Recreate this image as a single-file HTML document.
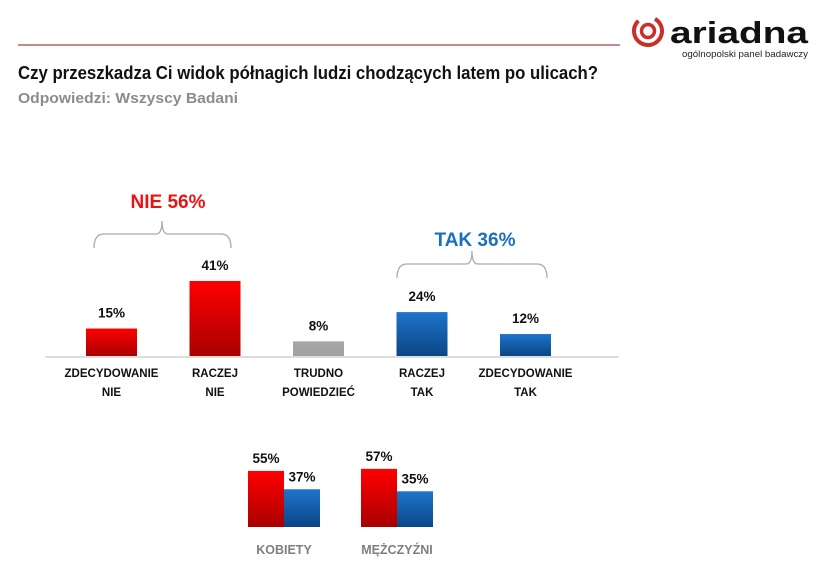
<!DOCTYPE html>
<html><head><meta charset="utf-8"><style>
body{margin:0;background:#fff;width:820px;height:575px;overflow:hidden;font-family:"Liberation Sans",sans-serif}
</style></head><body>
<svg width="820" height="575" xmlns="http://www.w3.org/2000/svg">
<defs>
<linearGradient id="gR" x1="0" y1="0" x2="0" y2="1"><stop offset="0" stop-color="#ff0000"/><stop offset="1" stop-color="#a80000"/></linearGradient>
<linearGradient id="gB" x1="0" y1="0" x2="0" y2="1"><stop offset="0" stop-color="#1e74cc"/><stop offset="1" stop-color="#0b4684"/></linearGradient>
<linearGradient id="gG" x1="0" y1="0" x2="0" y2="1"><stop offset="0" stop-color="#a8a8a8"/><stop offset="1" stop-color="#a0a0a0"/></linearGradient>
</defs>
<line x1="18" y1="45" x2="620" y2="45" stroke="#b56262" stroke-width="1.5"/>
<g>
<circle cx="648" cy="31" r="14" fill="none" stroke="#c9302c" stroke-width="4" stroke-dasharray="70 18" transform="rotate(-60 648 31)"/>
<circle cx="648" cy="31" r="6.5" fill="none" stroke="#c9302c" stroke-width="3.5"/>
<text x="808" y="43" text-anchor="end" font-size="31" font-weight="bold" fill="#111" textLength="138" lengthAdjust="spacingAndGlyphs">ariadna</text>
<text x="808" y="57" text-anchor="end" font-size="9.5" fill="#222" textLength="126" lengthAdjust="spacingAndGlyphs">ogólnopolski panel badawczy</text>
</g>
<text x="18" y="79" font-size="18" font-weight="bold" fill="#111" textLength="580" lengthAdjust="spacingAndGlyphs">Czy przeszkadza Ci widok półnagich ludzi chodzących latem po ulicach?</text>
<text x="18" y="103" font-size="14.5" font-weight="bold" fill="#8c8c8c" textLength="220" lengthAdjust="spacingAndGlyphs">Odpowiedzi:  Wszyscy Badani</text>

<line x1="45" y1="357" x2="619" y2="357" stroke="#bbb" stroke-width="1"/>
<g id="main"></g>

<g>
<path d="M94 248 Q94 234 104 234 L156 234 Q162 234 162 221 Q162 234 168 234 L221 234 Q231 234 231 248" fill="none" stroke="#aaa" stroke-width="1.3"/>
<text x="168" y="208" text-anchor="middle" font-size="19" font-weight="bold" fill="#ee1111">NIE 56%</text>
</g>
<g>
<path d="M397 278 Q397 264 407 264 L466 264 Q472 264 472 251 Q472 264 478 264 L537 264 Q547 264 547 278" fill="none" stroke="#aaa" stroke-width="1.3"/>
<text x="475" y="246" text-anchor="middle" font-size="19" font-weight="bold" fill="#1a6fc0">TAK 36%</text>
</g>
<g id="sub"></g>
</svg>
<script>
const categories=[["ZDECYDOWANIE","NIE"],["RACZEJ","NIE"],["TRUDNO","POWIEDZIEĆ"],["RACZEJ","TAK"],["ZDECYDOWANIE","TAK"]];
const values=[15,41,8,24,12];
const fills=["url(#gR)","url(#gR)","url(#gG)","url(#gB)","url(#gB)"];
const genders=["KOBIETY","MĘŻCZYŹNI"];
const nieValues=[55,57];
const takValues=[37,35];
const NS="http://www.w3.org/2000/svg";
function mk(t,a,p){const e=document.createElementNS(NS,t);for(const k in a)e.setAttribute(k,a[k]);p.appendChild(e);return e;}
const base=356, sc=1.83;
const yM=v=>base-v*sc;
const xM=i=>86+i*103.5;
const main=document.getElementById('main');
values.forEach((v,i)=>{
 const x=xM(i);
 const r=mk('rect',{x:x,y:yM(v),width:51,height:base-yM(v),fill:fills[i]},main);
 
 
 const t=mk('text',{x:x+25.5,y:yM(v)-11,'text-anchor':'middle','font-size':'13.5','font-weight':'bold',fill:'#111'},main);
 t.textContent=v+'%';
 
 
 categories[i].forEach((s,j)=>{
  const c=mk('text',{x:x+25.5,y:377+j*19,'text-anchor':'middle','font-size':'11.5','font-weight':'bold',fill:'#111'},main);
  c.textContent=s;
  
  
 });
});
const sub=document.getElementById('sub');
const b2=527, s2=1.02;
const y2=v=>b2-v*s2;
genders.forEach((g,i)=>{
 const x=248+i*113;
 const r1=mk('rect',{x:x,y:y2(nieValues[i]),width:36,height:b2-y2(nieValues[i]),fill:'url(#gR)'},sub);
 
 
 const r2=mk('rect',{x:x+36,y:y2(takValues[i]),width:36,height:b2-y2(takValues[i]),fill:'url(#gB)'},sub);
 
 
 const t1=mk('text',{x:x+18,y:y2(nieValues[i])-8,'text-anchor':'middle','font-size':'13.5','font-weight':'bold',fill:'#111'},sub);
 t1.textContent=nieValues[i]+'%';
 
 
 const t2=mk('text',{x:x+54,y:y2(takValues[i])-8,'text-anchor':'middle','font-size':'13.5','font-weight':'bold',fill:'#111'},sub);
 t2.textContent=takValues[i]+'%';
 
 
 const l=mk('text',{x:x+36,y:554,'text-anchor':'middle','font-size':'12.5','font-weight':'bold',fill:'#7f7f7f'},sub);
 l.textContent=g;
 
 
});
</script>
</body></html>
